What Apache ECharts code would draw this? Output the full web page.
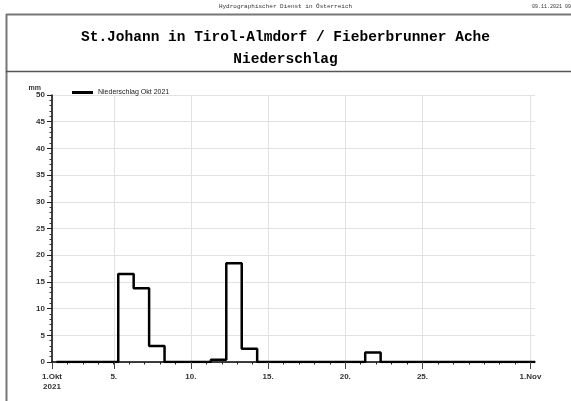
<!DOCTYPE html>
<html>
<head>
<meta charset="utf-8">
<script src="https://cdn.jsdelivr.net/npm/echarts@6/dist/echarts.min.js"></script>
<style>html,body{margin:0;padding:0;background:#fff}#c{width:571px;height:401px}</style>
</head>
<body>
<div id="c"></div>
<script>
// Daily precipitation, October 2021 (day of month -> mm, measured 07:00 to 07:00)
var days = [1,2,3,4,5,6,7,8,9,10,11,12,13,14,15,16,17,18,19,20,21,22,23,24,25,26,27,28,29,30,31];
var precip = [0,0,0,0,16.5,13.8,3.0,0,0,0,0.4,18.5,2.5,0,0,0,0,0,0,0,1.8,0,0,0,0,0,0,0,0,0,0];
var measureHour = 7;
var xLabelTicks = [1,5,10,15,20,25,32];
var xLabelText = {1:'1.Okt\n2021',5:'5.',10:'10.',15:'15.',20:'20.',25:'25.',32:'1.Nov'};
var yTicks = [0,5,10,15,20,25,30,35,40,45,50];
var seriesName = 'Niederschlag Okt 2021';
var headerText = 'Hydrographischer Dienst in Österreich';
var dateText = '09.11.2021 09:14';
var titleLines = ['St.Johann in Tirol-Almdorf / Fieberbrunner Ache','Niederschlag'];

var off = measureHour/24;
var pts = days.map(function(d,i){return [d+off, precip[i]];});
pts.push([days[days.length-1]+1+off, precip[precip.length-1]]);

var chart = echarts.init(document.getElementById('c'));
chart.setOption({
  animation:false,
  backgroundColor:'#fff',
  title:{
    text: titleLines.join('\n'),
    left:'center', top:26, padding:0,
    textStyle:{fontFamily:'Liberation Mono', fontWeight:'bold', fontSize:14.5, lineHeight:22, color:'#000'}
  },
  graphic:[
    {type:'text', left:'center', top:3, style:{text:headerText, font:'6px "Liberation Mono"', fill:'#333'}},
    {type:'text', x:532, y:4, style:{text:dateText, font:'5px "Liberation Mono"', fill:'#333'}},
    {type:'line', shape:{x1:6,y1:14.5,x2:571,y2:14.5}, style:{stroke:'#777',lineWidth:2}},
    {type:'line', shape:{x1:6.5,y1:14,x2:6.5,y2:401}, style:{stroke:'#777',lineWidth:2}},
    {type:'line', shape:{x1:6,y1:71.5,x2:571,y2:71.5}, style:{stroke:'#555',lineWidth:1.5}}
  ],
  legend:{
    left:72, top:89, padding:0, itemWidth:21, itemHeight:3, itemGap:5,
    data:[{name:seriesName, icon:'rect'}],
    textStyle:{fontFamily:'Liberation Sans', fontSize:7, color:'#222', padding:[0,0,0,0]}
  },
  grid:{left:52, top:95, right:36, bottom:39, containLabel:false},
  xAxis:{
    type:'value', min:1, max:32+off, interval:1,
    axisLine:{onZero:false, lineStyle:{color:'#000', width:1.5}},
    axisTick:{length:2.5, lineStyle:{color:'#222'}},
    splitLine:{show:false},
    axisLabel:{
      margin:10, fontFamily:'Liberation Sans', fontWeight:'bold', fontSize:8, lineHeight:10, color:'#333',
      showMaxLabel:false,
      formatter:function(v){var k=Math.round(v); return (Math.abs(v-k)<1e-6 && xLabelText[k]) ? xLabelText[k] : '';}
    }
  },
  yAxis:{
    type:'value', min:0, max:50, interval:5,
    name:'mm', nameLocation:'end', nameGap:3,
    nameTextStyle:{fontFamily:'Liberation Sans', fontWeight:'bold', fontSize:7, color:'#333', align:'right', padding:[0,11,0,0]},
    axisLine:{show:true, lineStyle:{color:'#000', width:1.5}},
    axisTick:{show:true, length:5, lineStyle:{color:'#222'}},
    minorTick:{show:true, splitNumber:5, length:2.5, lineStyle:{color:'#333'}},
    splitLine:{show:true, lineStyle:{color:'#e2e2e2', width:1}},
    axisLabel:{margin:7, fontFamily:'Liberation Sans', fontWeight:'bold', fontSize:8, color:'#333'}
  },
  series:[
    {
      type:'custom', silent:true, z:1,
      data: xLabelTicks.filter(function(v){return v!==days[0];}).map(function(v){return [v];}),
      renderItem:function(params, api){
        var p0 = api.coord([api.value(0), yTicks[0]]);
        var p1 = api.coord([api.value(0), yTicks[yTicks.length-1]]);
        return {type:'line', shape:{x1:Math.round(p0[0])+0.5,y1:p0[1],x2:Math.round(p1[0])+0.5,y2:p1[1]}, style:{stroke:'#e2e2e2', lineWidth:1}};
      }
    },
    {
      name:seriesName, type:'line', step:'end', z:3,
      data:pts, symbol:'none', showSymbol:false,
      lineStyle:{color:'#000', width:2.5},
      itemStyle:{color:'#000'}
    },
    {
      type:'custom', silent:true, z:4, clip:false,
      data: xLabelTicks.map(function(v){return [v];}),
      renderItem:function(params, api){
        var p = api.coord([api.value(0), yTicks[0]]);
        var x = Math.round(p[0])+0.5;
        return {type:'line', shape:{x1:x,y1:p[1],x2:x,y2:p[1]+7}, style:{stroke:'#444', lineWidth:1}};
      }
    }
  ]
});
</script>
</body>
</html>
